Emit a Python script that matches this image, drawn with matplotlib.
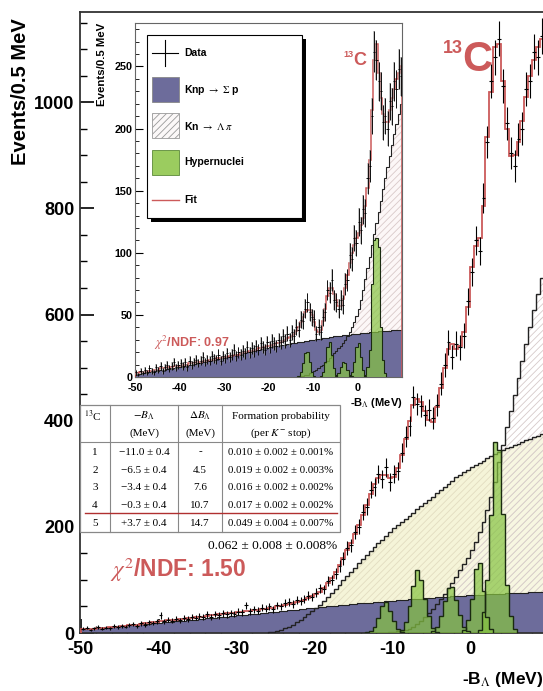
import numpy as np
import matplotlib
matplotlib.use('Agg')
import matplotlib.pyplot as plt
from matplotlib.patches import Rectangle
from matplotlib.ticker import MultipleLocator

plt.rcParams['font.family'] = ['Liberation Sans', 'DejaVu Sans']
plt.rcParams['mathtext.fontset'] = 'stix'
plt.rcParams['axes.unicode_minus'] = False
plt.rcParams['hatch.linewidth'] = 0.6

# ---------------- main spectrum, 0.5 MeV bins from -50 ----------------
main_start = -50.0
main_fit = [7, 7, 8, 8, 9, 9, 10, 11, 12, 12, 13, 14, 15, 15, 16, 17, 18, 19, 20, 21,
            22, 23, 24, 24, 25, 26, 27, 28, 29, 30, 31, 31, 32, 33, 34, 35, 36, 37, 37, 38,
            39, 40, 41, 42, 43, 44, 45, 46, 47, 48, 50, 51, 53, 55, 57, 59, 61, 63, 66, 69,
            73, 78, 85, 94, 104, 115, 128, 142, 156, 170, 186, 203, 222, 242, 262, 280, 292, 298, 297, 292,
            294, 310, 335, 365, 400, 430, 440, 436, 418, 402, 398, 425, 462, 500, 535, 545, 535, 540, 568, 615,
            690, 730, 745, 805, 935, 1020, 1105, 1110, 1040, 950, 898, 900, 925, 965, 1010, 1050, 1080, 1105, 1120]
main_data = [8, 10, 6, 9, 11, 8, 10, 9, 14, 11, 13, 12, 15, 17, 14, 18, 16, 20, 19, 22,
             33, 22, 25, 23, 27, 24, 28, 26, 31, 29, 32, 30, 35, 31, 36, 33, 37, 35, 38, 36,
             40, 39, 52, 41, 45, 42, 48, 46, 50, 45, 52, 50, 56, 58, 55, 62, 60, 64, 70, 68,
             76, 84, 82, 98, 100, 112, 126, 140, 160, 165, 190, 200, 228, 238, 270, 275, 300, 290, 312, 285,
             300, 305, 340, 370, 390, 445, 432, 428, 410, 420, 405, 430, 470, 505, 548, 520, 545, 538, 560, 625,
             680, 740, 720, 820, 925, 1040, 1085, 1120, 1030, 960, 905, 880, 930, 950, 1025, 1040, 1095, 1085, 1125]
main_sigp = [7.0, 7.6, 8.3, 8.9, 9.5, 10.2, 10.8, 11.4, 12.1, 12.7, 13.3, 14.0, 14.6, 15.2, 15.9, 16.5, 17.1, 17.8, 18.4, 19.0,
             19.7, 20.3, 20.9, 21.6, 22.2, 22.8, 23.5, 24.1, 24.7, 25.4, 26.0, 26.7, 27.4, 28.1, 28.8, 29.5, 30.2, 30.9, 31.6, 32.3,
             33.0, 33.7, 34.5, 35.2, 36.0, 36.7, 37.5, 38.2, 39.0, 39.7, 40.5, 41.2, 42.0, 42.7, 43.5, 44.2, 45.0, 45.7, 46.5, 47.2,
             48.0, 48.7, 49.4, 50.1, 50.8, 51.5, 52.2, 52.9, 53.6, 54.3, 55.0, 55.6, 56.2, 56.8, 57.4, 58.0, 58.6, 59.2, 59.8, 60.4,
             61.0, 61.6, 62.2, 62.8, 63.4, 64.0, 64.5, 65.0, 65.5, 66.0, 66.5, 67.0, 67.5, 68.0, 68.5, 69.0, 69.5, 70.0, 70.4, 70.8,
             71.2, 71.6, 72.0, 72.4, 72.8, 73.2, 73.6, 74.0, 74.4, 74.8, 75.1, 75.4, 75.7, 76.0, 76.3, 76.6, 76.9, 77.2, 77.5]
# broad background (light yellow), starts at -26 MeV
main_bgA_start = -26.0
main_bgA = [1, 2, 4, 6, 9, 12, 16, 20, 25, 30, 35, 41, 47, 53, 60, 67, 75, 83, 91, 99,
            107, 115, 123, 131, 139, 147, 155, 162, 169, 176, 183, 190, 197, 203, 209, 215, 221, 227, 233, 239,
            245, 251, 257, 263, 269, 275, 281, 287, 293, 298, 303, 308, 313, 317, 321, 325, 329, 333, 337, 341,
            345, 348, 351, 354, 357, 360, 363, 366, 369, 372, 375]
# Kn -> Lambda pi (hatched), starts at -10.5 MeV
main_lpi_start = -10.5
main_lpi = [1, 2, 3, 4, 6, 8, 12, 17, 23, 30, 38, 46, 55, 64, 74, 84, 95, 106, 118, 130,
            142, 156, 172, 190, 210, 232, 257, 285, 322, 355, 388, 418, 448, 480, 512, 545, 577, 608, 638, 668]
# hypernuclear peaks
main_peak_starts = [-13.5, -9.0, -5.0, -1.0, 1.0]
main_peaks = [[1, 4, 12, 28, 50, 58, 42, 22, 8, 2],
              [5, 20, 50, 88, 118, 100, 65, 32, 10, 2],
              [3, 12, 32, 60, 85, 87, 62, 34, 12, 3],
              [6, 25, 65, 120, 132, 80, 30, 8],
              [6, 40, 100, 222, 360, 345, 225, 90, 32, 8]]

# ---------------- inset spectrum, 0.5 MeV bins from -50 to 10 ----------------
ins_start = -50.0
ins_fit = [3, 3, 4, 4, 4, 5, 5, 5, 6, 6, 6, 7, 7, 7, 8, 8, 8, 9, 9, 9,
           9, 10, 10, 10, 11, 11, 11, 12, 12, 12, 13, 13, 13, 14, 14, 14, 15, 15, 15, 16,
           16, 16, 17, 17, 18, 18, 18, 19, 19, 20, 20, 21, 21, 22, 22, 23, 23, 24, 24, 25,
           25, 26, 26, 27, 27, 28, 29, 30, 31, 32, 33, 35, 37, 40, 44, 48, 52, 54, 54, 50,
           44, 38, 36, 38, 45, 55, 65, 72, 72, 67, 62, 57, 57, 63, 72, 82, 92, 100, 106, 112,
           116, 122, 128, 138, 152, 175, 215, 255, 268, 245, 225, 212, 205, 205, 215, 225, 232, 240, 245, 250]
ins_data = [4, 2, 5, 3, 6, 4, 7, 5, 4, 8, 6, 9, 5, 8, 10, 7, 9, 12, 8, 10,
            11, 9, 12, 8, 13, 10, 12, 14, 11, 13, 16, 12, 14, 13, 17, 15, 14, 18, 13, 17,
            15, 19, 16, 18, 22, 17, 20, 18, 21, 19, 24, 20, 23, 21, 25, 22, 27, 24, 22, 28,
            24, 29, 27, 25, 30, 28, 33, 29, 35, 30, 36, 33, 40, 38, 46, 45, 55, 60, 52, 48,
            47, 35, 40, 36, 48, 52, 70, 68, 78, 62, 60, 55, 62, 58, 75, 78, 98, 95, 112, 108,
            125, 118, 135, 132, 160, 170, 210, 262, 255, 238, 230, 205, 210, 200, 222, 218, 238, 232, 248, 242]
ins_sigp = [2.0, 2.3, 2.6, 2.9, 3.2, 3.5, 3.8, 4.1, 4.4, 4.7, 5.0, 5.3, 5.6, 5.9, 6.2, 6.5, 6.8, 7.1, 7.4, 7.7,
            8.0, 8.4, 8.8, 9.2, 9.6, 10.0, 10.4, 10.8, 11.2, 11.6, 12.0, 12.4, 12.8, 13.2, 13.6, 14.0, 14.4, 14.8, 15.2, 15.6,
            16.0, 16.4, 16.8, 17.2, 17.6, 18.0, 18.4, 18.8, 19.2, 19.6, 20.0, 20.4, 20.8, 21.2, 21.6, 22.0, 22.4, 22.8, 23.2, 23.6,
            24.0, 24.3, 24.6, 24.9, 25.2, 25.5, 25.8, 26.1, 26.4, 26.7, 27.0, 27.3, 27.6, 27.9, 28.2, 28.5, 28.8, 29.1, 29.4, 29.7,
            30.0, 30.3, 30.6, 30.9, 31.2, 31.5, 31.8, 32.1, 32.4, 32.7, 33.0, 33.2, 33.4, 33.6, 33.8, 34.0, 34.2, 34.4, 34.6, 34.8,
            35.0, 35.2, 35.4, 35.6, 35.8, 36.0, 36.2, 36.4, 36.6, 36.8, 37.0, 37.1, 37.2, 37.3, 37.4, 37.5, 37.6, 37.7, 37.8, 37.9]
ins_lpi_start = -13.0
ins_lpi = [0.5, 1, 1.5, 2, 3, 4, 5, 6, 7, 8.5, 10, 11.5, 13, 15, 17, 19, 21, 23, 25, 27.5,
           30, 33, 36, 40, 44, 49, 55, 62, 70, 79, 88, 97, 106, 115, 124, 133, 142, 151, 160, 169,
           178, 187, 196, 204, 212, 220]
ins_peak_starts = [-13.5, -8.5, -5.0, -2.0, 1.5]
ins_peaks = [[1, 4, 11, 19, 20, 12, 4, 1],
             [1, 4, 12, 24, 28, 18, 7, 2],
             [1, 3, 8, 12, 11, 6, 2, 1],
             [1, 4, 12, 24, 27, 16, 6, 1],
             [2, 8, 22, 75, 110, 112, 105, 40, 14, 3]]

# ---------------- table ----------------
tbl_head = [r'$-B_{\Lambda}$', r'$\Delta B_{\Lambda}$', 'Formation probability']
tbl_head2 = ['(MeV)', '(MeV)', r'(per $K^{-}$ stop)']
tbl_idx = ['1', '2', '3', '4', '5']
tbl_b = ['\u221211.0 \u00b1 0.4', '\u22126.5 \u00b1 0.4', '\u22123.4 \u00b1 0.4',
         '\u22120.3 \u00b1 0.4', '+3.7 \u00b1 0.4']
tbl_db = ['-', '4.5', '7.6', '10.7', '14.7']
tbl_prob = ['0.010 \u00b1 0.002 \u00b1 0.001%', '0.019 \u00b1 0.002 \u00b1 0.003%',
            '0.016 \u00b1 0.002 \u00b1 0.002%', '0.017 \u00b1 0.002 \u00b1 0.002%',
            '0.049 \u00b1 0.004 \u00b1 0.007%']
tbl_total = '0.062 \u00b1 0.008 \u00b1 0.008%'

PURPLE = '#6d6c9b'
GREEN = '#86c441'
RED = '#cc5a5a'
YEL = '#f5f4d8'

W, H = 543, 691
fig = plt.figure(figsize=(W / 100, H / 100), dpi=100)


def fbox(l, t, r, b):
    return [l / W, 1 - b / H, (r - l) / W, (b - t) / H]


def edges_for(start, vals):
    return start + 0.5 * np.arange(len(vals) + 1)


def draw_spectrum(a, start, fit, data, sigp, bgs, peak_starts, peaks, boxes, lw):
    ed = edges_for(start, fit)
    cen = ed[:-1] + 0.25
    for (bs, bv, fc, hc) in bgs:
        a.stairs(bv, edges_for(bs, bv), fill=True, facecolor=fc, edgecolor=hc,
                 hatch='/////', linewidth=0, zorder=1)
    a.stairs(sigp, ed, fill=True, facecolor=PURPLE, linewidth=0, zorder=2)
    a.stairs(sigp, ed, color='#222222', linewidth=0.8, zorder=3)
    for (bs, bv, fc, hc) in bgs:
        a.stairs(bv, edges_for(bs, bv), color='#222222', linewidth=lw, zorder=3)
    for ps, pv in zip(peak_starts, peaks):
        pe = edges_for(ps, pv)
        a.stairs(pv, pe, fill=True, facecolor=GREEN, alpha=0.7, linewidth=0, zorder=4)
        a.stairs(pv, pe, color='#1a2a10', linewidth=lw, zorder=5)
    a.stairs(fit, ed, color=RED, linewidth=lw + 0.3, zorder=6)
    d = np.array(data, dtype=float)
    err = np.sqrt(d)
    if boxes:
        a.bar(cen, 2 * err, bottom=d - err, width=0.42, color='#9a9a9a',
              alpha=0.55, linewidth=0, zorder=6)
    a.errorbar(cen, d, yerr=err, xerr=0.25, fmt='none', ecolor='k',
               elinewidth=lw * 0.8, zorder=7)


# ---------------- main axes ----------------
ax = fig.add_axes(fbox(80, 12, 543, 633))
draw_spectrum(ax, main_start, main_fit, main_data, main_sigp,
              [(main_bgA_start, main_bgA, YEL, '#e2dcc0'),
               (main_lpi_start, main_lpi, (1, 1, 1, 0.25), '#d6caca')],
              main_peak_starts, main_peaks, False, 1.0)
ax.set_xlim(-50.1, 9.4)
ax.set_ylim(0, 1170)
ax.set_xticks([-50, -40, -30, -20, -10, 0])
ax.xaxis.set_minor_locator(MultipleLocator(2))
ax.set_yticks([0, 200, 400, 600, 800, 1000])
ax.yaxis.set_minor_locator(MultipleLocator(50))
ax.tick_params(which='major', direction='in', length=10, width=1.2, labelsize=13, pad=4)
ax.tick_params(which='minor', direction='in', length=5, width=1.0)
ax.tick_params(axis='x', pad=6)
for lbl in ax.get_xticklabels() + ax.get_yticklabels():
    lbl.set_fontweight('bold')
ax.spines['right'].set_visible(False)
for s in ['left', 'top', 'bottom']:
    ax.spines[s].set_color('#333333')
    ax.spines[s].set_linewidth(1.3)

# ---------------- inset axes ----------------
ai = fig.add_axes(fbox(135, 23, 402, 377))
draw_spectrum(ai, ins_start, ins_fit, ins_data, ins_sigp,
              [(ins_lpi_start, ins_lpi, (0.99, 0.97, 0.97, 1), '#d9c9c9')],
              ins_peak_starts, ins_peaks, True, 0.8)
ai.set_xlim(-50, 10)
ai.set_ylim(0, 285)
ai.set_xticks([-50, -40, -30, -20, -10, 0])
ai.xaxis.set_minor_locator(MultipleLocator(2))
ai.set_yticks([0, 50, 100, 150, 200, 250])
ai.yaxis.set_minor_locator(MultipleLocator(10))
ai.tick_params(which='major', direction='in', length=6, width=0.8, labelsize=7.8, pad=2)
ai.tick_params(which='minor', direction='in', length=3, width=0.6)
ai.tick_params(axis='x', pad=4)
for lbl in ai.get_xticklabels() + ai.get_yticklabels():
    lbl.set_fontweight('bold')
for s in ai.spines.values():
    s.set_color('#666666')
    s.set_linewidth(0.8)

# ---------------- overlay in pixel coordinates ----------------
ov = fig.add_axes([0, 0, 1, 1], zorder=10)
ov.set_xlim(0, W)
ov.set_ylim(H, 0)
ov.axis('off')

ov.text(21, 92, 'Events/0.5 MeV', rotation=90, fontsize=14.5, fontweight='bold',
        ha='center', va='center')
ov.text(462, 684, r'-B$_{\Lambda}$ (MeV)', fontsize=12.5, fontweight='bold',
        ha='left', va='baseline')
ov.text(102, 64, 'Events/0.5 MeV', rotation=90, fontsize=8.2, fontweight='bold',
        ha='center', va='center')
ov.text(350, 406, r'-B$_{\Lambda}$ (MeV)', fontsize=8, fontweight='bold',
        ha='left', va='baseline')

# labels
ov.text(443, 53, '13', fontsize=13, fontweight='bold', color=RED, va='baseline')
ov.text(462, 71, 'C', fontsize=30, fontweight='bold', color=RED, va='baseline')
ov.text(343, 57, '13', fontsize=6.5, fontweight='bold', color=RED, va='baseline')
ov.text(353, 65, 'C', fontsize=13, fontweight='bold', color=RED, va='baseline')
ov.text(110, 577, r'$\chi^{2}$/NDF: 1.50', fontsize=16.5, fontweight='bold',
        color=RED, va='baseline')
ov.text(154, 347, r'$\chi^{2}$/NDF: 0.97', fontsize=9, fontweight='bold',
        color=RED, va='baseline')

# legend
ov.add_patch(Rectangle((151, 39), 155, 183, facecolor='black', linewidth=0))
ov.add_patch(Rectangle((147, 35), 155, 183, facecolor='white', edgecolor='black', linewidth=0.8))
ov.plot([165, 165], [40, 66], color='k', lw=0.8)
ov.plot([152, 178], [53, 53], color='k', lw=0.8)
ov.add_patch(Rectangle((152, 77), 27, 25, facecolor=PURPLE, edgecolor='#888888', lw=0.6))
ov.add_patch(Rectangle((152, 113), 27, 25, facecolor='#fbf8f8', edgecolor='#999999',
                       hatch='/////', lw=0.6))
ov.add_patch(Rectangle((152, 150), 27, 25, facecolor='#9bcc5f', edgecolor='#5c8a3a', lw=0.6))
ov.plot([152, 179], [200, 200], color=RED, lw=1.0)
leg_labels = ['Data', r'Knp $\rightarrow$ $\Sigma$ p', r'Kn $\rightarrow$ $\Lambda\ \pi$',
              'Hypernuclei', 'Fit']
for yy, lab in zip([53, 90, 126, 162, 200], leg_labels):
    ov.text(184, yy, lab, fontsize=7.5, fontweight='bold', va='center')

# table
ov.add_patch(Rectangle((80, 405), 260, 127, facecolor='white', edgecolor='#888888', lw=0.9))
for xv in [110, 178, 222]:
    ov.plot([xv, xv], [405, 532], color='#888888', lw=0.8)
ov.plot([80, 340], [442, 442], color='#888888', lw=0.8)
ov.plot([85, 337], [513, 513], color='#b03030', lw=1.0)
serif = 'Liberation Serif'
ov.text(84, 416, r'$^{13}$C', fontsize=8, family=serif, va='center')
col_x = [144, 200, 281]
for cx, h1, h2 in zip(col_x, tbl_head, tbl_head2):
    ov.text(cx, 416, h1, fontsize=8, family=serif, ha='center', va='center')
    ov.text(cx, 433, h2, fontsize=8, family=serif, ha='center', va='center')
row_y = [452, 470, 487, 505, 523]
for ry, c0, c1, c2, c3 in zip(row_y, tbl_idx, tbl_b, tbl_db, tbl_prob):
    ov.text(95, ry, c0, fontsize=8, family=serif, ha='center', va='center')
    ov.text(144, ry, c1, fontsize=8, family=serif, ha='center', va='center')
    ov.text(200, ry, c2, fontsize=8, family=serif, ha='center', va='center')
    ov.text(281, ry, c3, fontsize=7.8, family=serif, ha='center', va='center')
ov.text(337, 546, tbl_total, fontsize=9.6, family=serif, ha='right', va='center')

fig.savefig('out.png', dpi=100)
